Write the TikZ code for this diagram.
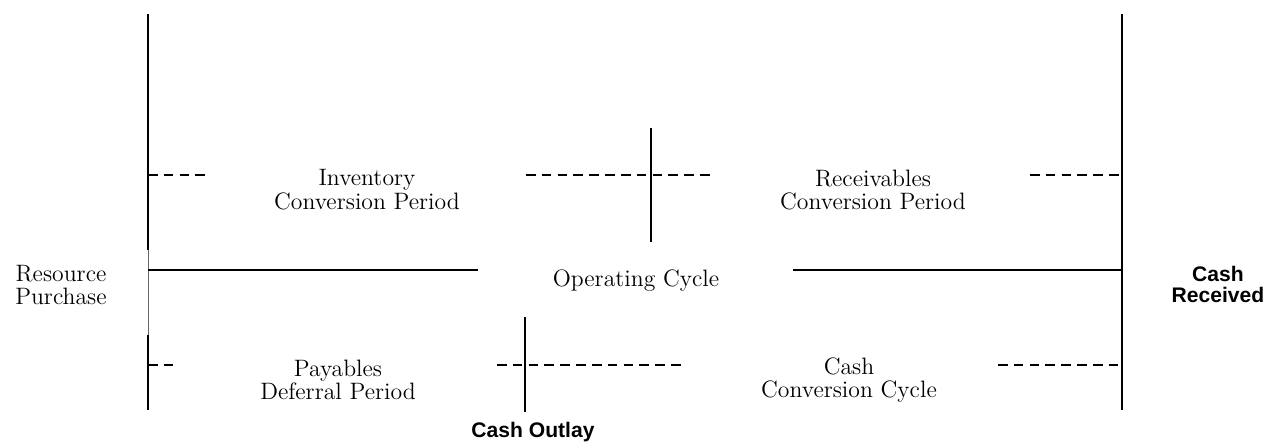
\documentclass[tikz,border=0pt]{standalone}
\usepackage{fontspec}
\usepackage{tikz}
\usetikzlibrary{positioning,calc}
\newfontfamily\labelsans{Liberation Sans}
\tikzset{
  tick/.style ={line width=1pt, draw=black},
  tickthin/.style={line width=0.4pt, draw=black!60},
  span/.style ={line width=1pt, draw=black, dash pattern=on 5.5pt off 3.5pt},
  cycle/.style={line width=1pt, draw=black},
  period/.style={align=center, font=\fontsize{13.5}{13.5}\selectfont, inner sep=0pt},
  event/.style={align=center, font=\labelsans\bfseries\fontsize{12}{12}\selectfont, inner sep=0pt},
}
\begin{document}
\begin{tikzpicture}[x=0.02cm, y=-0.02cm]
  \useasboundingbox (0,0) rectangle (1266,443);
  % event markers
  \coordinate (lt) at (148,14);   \coordinate (lm) at (148,250);
  \coordinate (ln) at (148,335);  \coordinate (lb) at (148,410);
  \coordinate (rt) at (1122,14);  \coordinate (rb) at (1122,410);
  \coordinate (mt) at (651,128);  \coordinate (mb) at (651,242);
  \coordinate (ot) at (525,317);  \coordinate (ob) at (525,412);
  \draw[tick] (lt) -- (lm);
  \draw[tickthin] (lm) -- (ln);
  \draw[tick] (ln) -- (lb);
  \draw[tick] (rt) -- (rb);
  \draw[tick] (mt) -- (mb);
  \draw[tick] (ot) -- (ob);

  % labels
  \node[period] (inv) at (367,190) {Inventory\\Conversion Period};
  \node[period] (rec) at (873,190) {Receivables\\Conversion Period};
  \node[period] (op)  at (636,281) {Operating Cycle};
  \node[period] (pay) at (338,380) {Payables\\Deferral Period};
  \node[period] (ccc) at (849,380) {Cash\\Conversion Cycle};
  \node[period] (res) at (61,285)  {Resource\\Purchase};
  \node[event]  (rcv) at (1218,284) {Cash\\Received};
  \node[event]  (out) at (533,432) {Cash Outlay};

  % spans
  \draw[span] (148,175) -- (210,175);
  \draw[span] (526,175) -- (714,175);
  \draw[span] (1030,175) -- (1122,175);
  \draw[cycle] (148,270) -- (478,270);
  \draw[cycle] (793,270) -- (1122,270);
  \draw[span] (148,365) -- (178,365);
  \draw[span] (497,365) -- (681,365);
  \draw[span] (998,365) -- (1122,365);
\end{tikzpicture}
\end{document}
